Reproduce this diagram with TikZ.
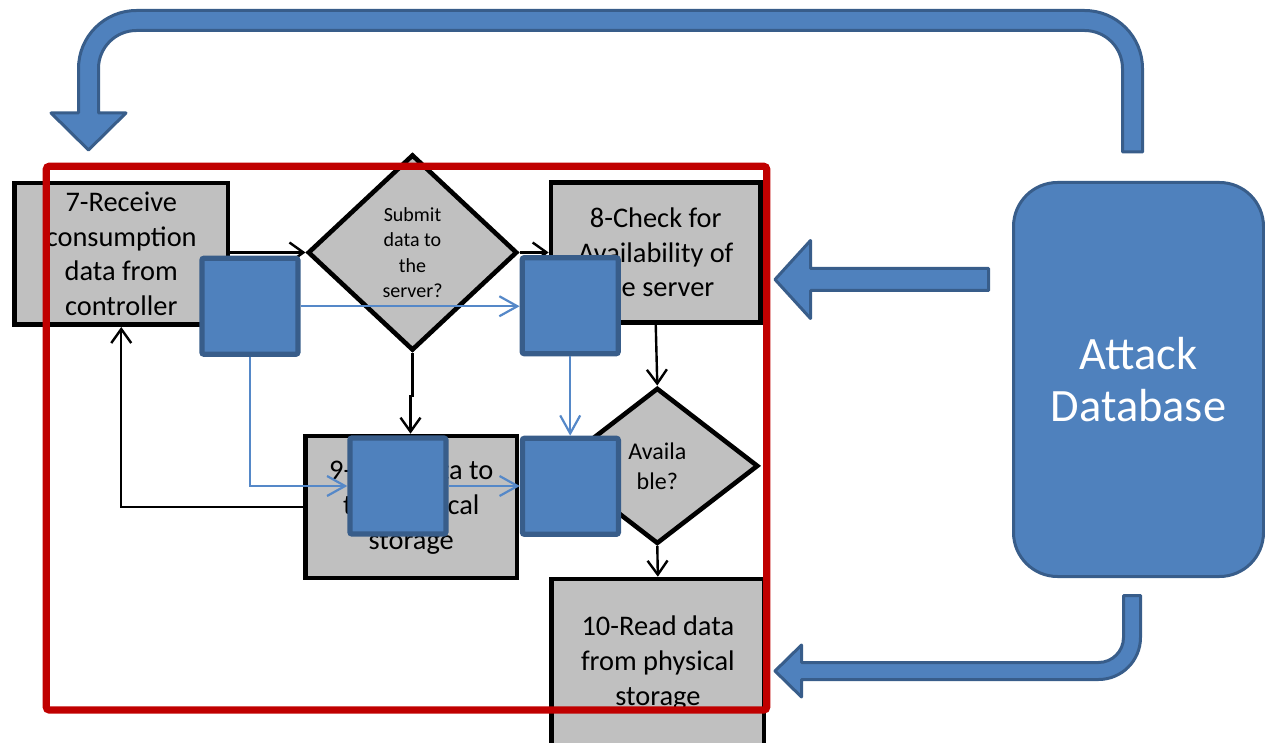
\documentclass[tikz,border=0pt]{standalone}
\usepackage{fontspec}
\setmainfont{Carlito}
\usetikzlibrary{shapes.geometric,arrows.meta}
\definecolor{boxgray}{HTML}{C0C0C0}
\definecolor{dbblue}{HTML}{4F81BD}
\definecolor{dbedge}{HTML}{385D8A}
\definecolor{linkblue}{HTML}{5588C8}
\definecolor{framered}{HTML}{C00000}

\begin{document}
\begin{tikzpicture}[x=0.5pt,y=-0.5pt,
  procbox/.style={rectangle, draw=black, fill=boxgray, line width=2.3pt,
    inner sep=0pt, align=center, font=\fontsize{14.2}{17.3}\selectfont},
  decision/.style={diamond, draw=black, fill=boxgray, line width=2.3pt,
    inner sep=0pt, align=center},
  cover/.style={rectangle, draw=dbedge, fill=dbblue, line width=2.6pt,
    rounded corners=1pt, minimum width=48pt, minimum height=48pt, inner sep=0pt},
  flow/.style={draw=black, line width=1.2pt, -{Straight Barb[length=7pt,width=10pt]}},
  link/.style={draw=linkblue, line width=1.1pt, -{Straight Barb[length=9pt,width=10pt]}},
  fatarrow/.style={draw=dbedge, fill=dbblue, line width=1.5pt, line join=round},
  dbnode/.style={rectangle, draw=dbedge, fill=dbblue, line width=1.5pt,
    rounded corners=22pt, inner sep=0pt, align=center, text=white,
    font=\fontsize{23.2}{26}\selectfont},
]
\useasboundingbox (0,0) rectangle (1265,743);

% process steps
\node[procbox, minimum width=106.75pt, minimum height=70.85pt] (b7) at (121.25,253.85)
  {7-Receive\\consumption\\data from\\controller};
\node[procbox, minimum width=104.75pt, minimum height=70pt] (b8) at (655.75,252.5)
  {8-Check for\\Availability of\\the server};
\node[procbox, minimum width=105.75pt, minimum height=71pt] (b9) at (411.25,507)
  {9-Save data to\\the physical\\storage};
\node[procbox, minimum width=106.15pt, minimum height=84pt] (b10) at (657.85,663)
  {10-Read data\\from physical\\storage};

% decisions
\node[decision, minimum width=104.7pt, minimum height=98pt,
  font=\fontsize{10}{12.7}\selectfont] (d1) at (412.5,252.5)
  {Submit\\data to\\the\\server?};
\node[decision, minimum width=100.9pt, minimum height=78pt,
  font=\fontsize{12}{15}\selectfont] (d2) at (657.3,465.9)
  {Availa\\ble?};

% control flow
\coordinate (jog) at (410.5,396);
\draw[flow] (b7.east |- d1.west) -- (d1.west);
\draw[flow] (d1.east) -- (b8.west |- d1.east);
\draw[flow] (d1.south) -- (d1.south |- jog) -- (jog) -- (jog |- b9.north);
\draw[flow] (b9.west) -| (b7.south);
\draw[flow] (b8.south) -- (d2.north);
\draw[flow] (d2.south) -- (b10.north);

% injected blocks
\node[cover] (q1) at (249.9,306.25) {};
\node[cover] (q2) at (570.2,305.7) {};
\node[cover] (q3) at (397.9,486) {};
\node[cover] (q4) at (570.4,486.3) {};

\draw[link] (q1.east) -- (q2.west |- q1.east);
\draw[link] (q1.south) |- (q3.west);
\draw[link] (q3.east) -- (q4.west |- q3.east);
\draw[link] (q2.south) -- (q4.north -| q2.south);

% compromised region
\node[draw=framered, line width=3.6pt, rounded corners=1.5pt, inner sep=0pt,
  minimum width=360.2pt, minimum height=271.85pt] (frame) at (406.5,438.15) {};

% attack source
\node[dbnode, minimum width=125pt, minimum height=197pt] (db) at (1138.5,379.5)
  {Attack\\Database};

% U-turn arrow over the top
\path[fatarrow]
  (1122.5,152) -- (1142.5,152) -- (1142.5,68.5)
  arc[start angle=0, end angle=-90, radius=58]
  -- (136.5,10.5)
  arc[start angle=-90, end angle=-180, radius=58]
  -- (78.5,113) -- (51,113) -- (88.5,150) -- (126,113) -- (98.5,113)
  -- (98.5,68.5)
  arc[start angle=-180, end angle=-90, radius=38]
  -- (1084.5,30.5)
  arc[start angle=-90, end angle=0, radius=38]
  -- cycle;

% straight arrow towards step 8
\path[fatarrow]
  (775,279.5) -- (810.5,240.5) -- (810.5,268.5) -- (988.5,268.5)
  -- (988.5,290.5) -- (810.5,290.5) -- (810.5,318.5) -- cycle;

% bent arrow towards step 10
\path[fatarrow]
  (775,671) -- (801.5,645) -- (801.5,662.5) -- (1098.5,662.5)
  arc[start angle=90, end angle=0, radius=25]
  -- (1123.5,595.5) -- (1140.5,595.5) -- (1140.5,637.5)
  arc[start angle=0, end angle=90, radius=42]
  -- (801.5,679.5) -- (801.5,697) -- cycle;
\end{tikzpicture}
\end{document}
